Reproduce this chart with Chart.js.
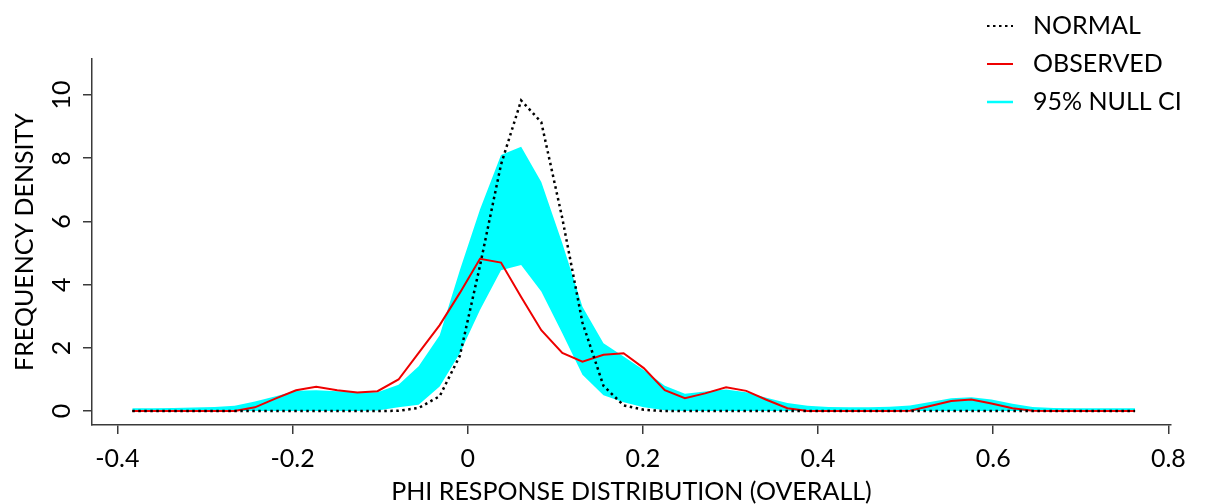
<!DOCTYPE html>
<html>
<head>
<meta charset="utf-8">
<script src="https://cdn.jsdelivr.net/npm/chart.js@4.4.1/dist/chart.umd.min.js"></script>
<style>
  html, body { margin: 0; padding: 0; background: #fff; }
  #wrap { position: relative; width: 1206px; height: 504px; }
</style>
</head>
<body>
<div id="wrap"><canvas id="myChart"></canvas></div>
<script>
// phi values (x) the densities were evaluated at
const phiValues = [
  -0.383, -0.360, -0.336, -0.313, -0.289, -0.266, -0.243, -0.219, -0.196, -0.173,
  -0.149, -0.126, -0.103, -0.079, -0.056, -0.032, -0.009, 0.014, 0.038, 0.061,
  0.084, 0.108, 0.131, 0.155, 0.178, 0.201, 0.225, 0.248, 0.271, 0.295,
  0.318, 0.341, 0.365, 0.388, 0.412, 0.435, 0.458, 0.482, 0.505, 0.528,
  0.552, 0.575, 0.598, 0.622, 0.645, 0.669, 0.692, 0.715, 0.739, 0.762,
];

const normalDensity = [
  0, 0, 0, 0, 0, 0, 0, 0, 0, 0,
  0, 0, 0, 0.01, 0.10, 0.47, 1.75, 4.60, 7.80, 9.83,
  9.14, 6.10, 2.80, 0.80, 0.18, 0.04, 0, 0, 0, 0,
  0, 0, 0, 0, 0, 0, 0, 0, 0, 0,
  0, 0, 0, 0, 0, 0, 0, 0, 0, 0,
];

const observedDensity = [
  0, 0, 0, 0, 0, 0, 0.12, 0.40, 0.66, 0.77,
  0.66, 0.59, 0.63, 1.00, 1.84, 2.72, 3.74, 4.82, 4.70, 3.61,
  2.56, 1.84, 1.56, 1.78, 1.83, 1.36, 0.66, 0.41, 0.56, 0.75,
  0.64, 0.36, 0.09, 0, 0, 0, 0, 0, 0.01, 0.16,
  0.32, 0.37, 0.24, 0.09, 0.01, 0, 0, 0, 0, 0,
];

const ciUpper = [
  0.09, 0.09, 0.10, 0.11, 0.13, 0.17, 0.30, 0.47, 0.64, 0.66,
  0.63, 0.60, 0.60, 0.83, 1.42, 2.40, 4.46, 6.38, 8.10, 8.36,
  7.25, 5.31, 3.30, 2.15, 1.73, 1.30, 0.80, 0.55, 0.62, 0.68,
  0.60, 0.42, 0.26, 0.17, 0.13, 0.12, 0.12, 0.14, 0.18, 0.29,
  0.41, 0.44, 0.37, 0.23, 0.13, 0.10, 0.09, 0.09, 0.09, 0.09,
];

const ciLower = [
  0, 0, 0, 0, 0, 0, 0, 0, 0, 0,
  0, 0, 0.02, 0.12, 0.20, 0.78, 1.83, 3.20, 4.46, 4.62,
  3.78, 2.46, 1.15, 0.50, 0.28, 0.12, 0.03, 0, 0, 0,
  0, 0, 0, 0, 0, 0, 0, 0, 0, 0,
  0, 0, 0, 0, 0, 0, 0, 0, 0, 0,
];

const seriesNames = ["NORMAL", "OBSERVED", "95% NULL CI"];
const xTitle = "PHI RESPONSE DISTRIBUTION (OVERALL)";
const yTitle = "FREQUENCY DENSITY";

const FONT = "Lato";
const AXIS_COLOR = "#3a3a3a";

const toPoints = (ys) => ys.map((y, i) => ({ x: phiValues[i], y: y }));

// legend drawn inside the top right corner, like R's legend(bty = "n")
const cornerLegend = {
  id: "cornerLegend",
  afterDraw: (chart) => {
    const c = chart.ctx;
    c.save();
    c.font = `25px ${FONT}`;
    c.textBaseline = "middle";
    chart.data.datasets
      .filter((ds) => ds.inLegend)
      .forEach((ds, i) => {
        const y = 26 + i * 38;
        c.beginPath();
        c.setLineDash(ds.legendDash || []);
        c.strokeStyle = ds.legendColor;
        c.lineWidth = ds.legendWidth;
        c.moveTo(987, y);
        c.lineTo(1013, y);
        c.stroke();
        c.setLineDash([]);
        c.fillStyle = "#000";
        c.fillText(ds.label, 1033, y);
      });
    c.restore();
  },
};

const ctx = document.querySelector("canvas#myChart").getContext("2d");

const myChart = new Chart(ctx, {
  type: "line",
  data: {
    datasets: [
      {
        label: seriesNames[0],
        data: toPoints(normalDensity),
        borderColor: "#000000",
        borderWidth: 2.5,
        borderDash: [2.5, 3.5],
        pointRadius: 0,
        fill: false,
        order: 0,
        inLegend: true,
        legendColor: "#000000",
        legendWidth: 2,
        legendDash: [2.5, 3.5],
      },
      {
        label: seriesNames[1],
        data: toPoints(observedDensity),
        borderColor: "#ee0000",
        borderWidth: 2,
        pointRadius: 0,
        fill: false,
        order: 1,
        inLegend: true,
        legendColor: "#ee0000",
        legendWidth: 2,
      },
      {
        label: seriesNames[2],
        data: toPoints(ciUpper),
        borderWidth: 0,
        borderColor: "rgba(0,0,0,0)",
        backgroundColor: "#00ffff",
        pointRadius: 0,
        fill: "+1",
        order: 2,
        inLegend: true,
        legendColor: "#00ffff",
        legendWidth: 2.5,
      },
      {
        label: "ci-lower",
        data: toPoints(ciLower),
        borderWidth: 0,
        borderColor: "rgba(0,0,0,0)",
        pointRadius: 0,
        fill: false,
        order: 3,
      },
    ],
  },
  options: {
    responsive: true,
    maintainAspectRatio: false,
    animation: false,
    layout: { padding: { left: 0, top: 59, right: 35, bottom: 0 } },
    elements: { line: { tension: 0 } },
    plugins: {
      legend: { display: false },
      tooltip: { enabled: false },
    },
    scales: {
      x: {
        type: "linear",
        min: -0.429,
        max: 0.803,
        afterFit: (scale) => {
          scale.height = 79;
        },
        grid: {
          drawOnChartArea: false,
          drawTicks: true,
          tickLength: 9,
          color: AXIS_COLOR,
          lineWidth: 1.5,
        },
        border: { display: true, color: AXIS_COLOR, width: 1.5 },
        ticks: {
          stepSize: 0.2,
          includeBounds: false,
          autoSkip: false,
          maxRotation: 0,
          padding: 10,
          color: "#000",
          font: { family: FONT, size: 25 },
        },
        title: {
          display: true,
          text: xTitle,
          color: "#000",
          font: { family: FONT, size: 25, lineHeight: 1 },
          padding: { top: 0, bottom: 0 },
        },
      },
      y: {
        type: "linear",
        min: -0.44,
        max: 11.14,
        afterFit: (scale) => {
          scale.width = 92;
        },
        grid: {
          drawOnChartArea: false,
          drawTicks: true,
          tickLength: 9,
          color: AXIS_COLOR,
          lineWidth: 1.5,
        },
        border: { display: true, color: AXIS_COLOR, width: 1.5 },
        ticks: {
          stepSize: 2,
          includeBounds: false,
          minRotation: 90,
          maxRotation: 90,
          crossAlign: "center",
          padding: 7,
          color: "#000",
          font: { family: FONT, size: 25 },
        },
        title: {
          display: true,
          text: yTitle,
          color: "#000",
          font: { family: FONT, size: 25 },
          padding: { top: 10, bottom: 0 },
        },
      },
    },
  },
  plugins: [cornerLegend],
});
</script>
</body>
</html>
